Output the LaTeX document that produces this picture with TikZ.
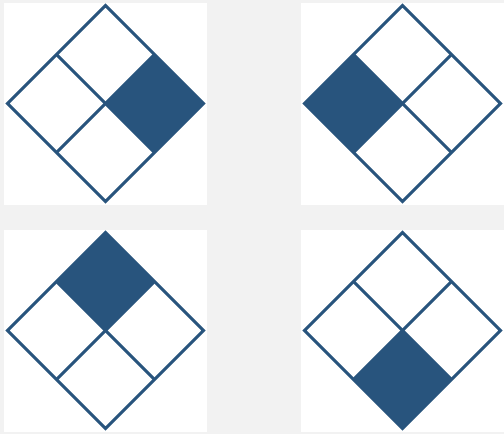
\documentclass[tikz,border=0pt]{standalone}
\usepackage{tikz}
\definecolor{hazblue}{RGB}{40, 84, 125}
\definecolor{pagegray}{RGB}{242, 242, 242}

\begin{document}
\begin{tikzpicture}[x=1pt, y=1pt,
        card/.style={fill=white},
        diam/.style={draw=hazblue, line width=3pt, line join=miter},
        quad/.style={fill=hazblue}
      ]
        \fill[pagegray] (0,0) rectangle (504,434);
        \useasboundingbox (0,0) rectangle (504,434);
        % centre x, centre y, direction of the filled quarter
        \foreach \cx/\cy/\dir in {105.5/330.5/0, 402.5/330.5/180, 105.5/103.5/90, 402.5/103.5/270} {
          \fill[card] (\cx-101.5,\cy-102) rectangle (\cx+101.5,\cy+100.5);
          \begin{scope}[shift={(\cx,\cy)}]
            \fill[quad, rotate=\dir] (0,0) -- (49,49) -- (98,0) -- (49,-49) -- cycle;
            \draw[diam] (-49,49) -- (49,-49);
            \draw[diam] (-49,-49) -- (49,49);
            \draw[diam] (0,98) -- (98,0) -- (0,-98) -- (-98,0) -- cycle;
          \end{scope}
        }
      \end{tikzpicture}
\end{document}
